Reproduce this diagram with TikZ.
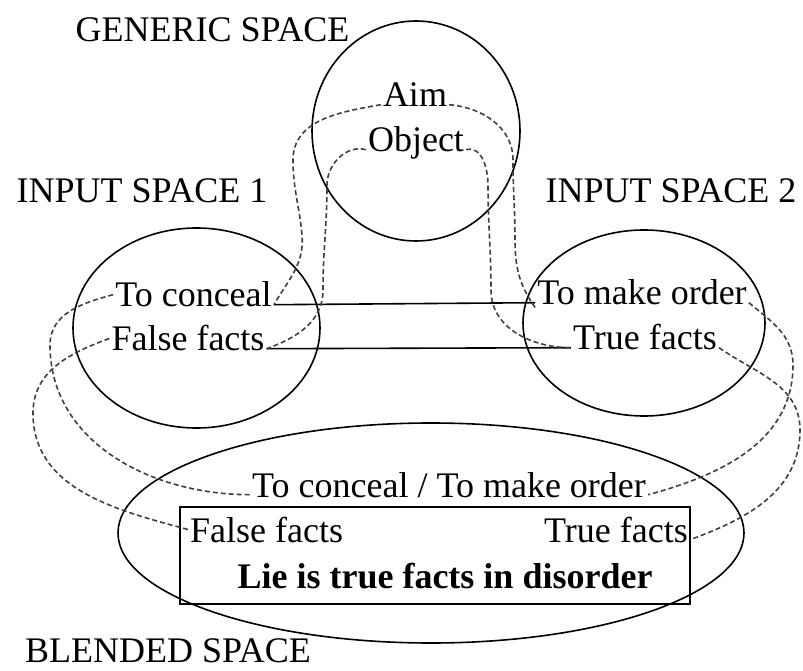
\documentclass[tikz,border=0pt]{standalone}
\usepackage{fontspec}
\setmainfont{Liberation Serif}
\usetikzlibrary{shapes.geometric}

\begin{document}
\begin{tikzpicture}[x=1pt,y=1pt,
  spacering/.style={ellipse, draw=black, line width=1.6pt, inner sep=0pt},
  lbl/.style={anchor=base, inner sep=2pt, font=\fontsize{36}{40}\selectfont},
  link/.style={draw=black!75, line width=1.6pt, dash pattern=on 5pt off 3pt},
  match/.style={draw=black, line width=1.6pt}
]
\useasboundingbox (0,0) rectangle (803,670);

% the four mental spaces
\node[spacering, minimum width=208pt, minimum height=220pt] (gen) at (416,539) {};
\node[spacering, minimum width=247pt, minimum height=200pt] (in1) at (196.5,342) {};
\node[spacering, minimum width=242pt, minimum height=186pt] (in2) at (644,347) {};
\node[spacering, minimum width=626pt, minimum height=220pt] (blend) at (431,137) {};
\node[draw=black, line width=1.6pt, minimum width=510pt, minimum height=97pt, inner sep=0pt] (frame) at (435,114.5) {};

% space titles
\node[lbl] (tgen) at (212.5,628) {GENERIC SPACE};
\node[lbl] (tin1) at (142,467) {INPUT SPACE 1};
\node[lbl] (tin2) at (671,467) {INPUT SPACE 2};
\node[lbl, anchor=base west, inner sep=0pt] (tblend) at (25,8) {BLENDED SPACE};

% generic space
\node[lbl] (aim) at (415,563) {Aim};
\node[lbl] (obj) at (416,518) {Object};

% input space 1
\node[lbl] (tc) at (193.5,363) {To conceal};
\node[lbl] (ffa) at (188,319) {False facts};

% input space 2
\node[lbl] (mo) at (642,365) {To make order};
\node[lbl] (tfb) at (645,320) {True facts};

% blended space
\node[lbl] (bt) at (449,173) {To conceal / To make order};
\node[lbl, anchor=base west] (bff) at (188,128) {False facts};
\node[lbl, anchor=base east] (btf) at (690,128) {True facts};
\node[lbl, font=\fontsize{36}{40}\selectfont\bfseries] (lie) at (445,82) {Lie is true facts in disorder};

% cross-space matches
\draw[match] (tc.mid east) -- (mo.mid west);
\draw[match] (ffa.mid east) -- (tfb.mid west);

% projections from the generic space
\draw[link] (aim.mid west) to[out=190,in=90] (293,510) to[out=-90,in=95] (302,435) to[out=-85,in=60] (tc.mid east);
\draw[link] (obj.mid west) to[out=165,in=90] (327,485) to[out=-90,in=90] (323,380) to[out=-90,in=20] (ffa.mid east);
\draw[link] (aim.mid east) to[out=-5,in=90] (513,510) to[out=-90,in=90] (515,430) to[out=-90,in=125] (mo.south west);
\draw[link] (obj.mid east) to[out=15,in=90] (488,485) to[out=-90,in=90] (491,380) to[out=-90,in=180] (tfb.mid west);

% projections into the blended space
\draw[link] (tc.west) to[out=195,in=90] (50,325) to[out=-90,in=180] (bt.mid west);
\draw[link] (ffa.west) to[out=200,in=90] (33,257) to[out=-90,in=165] (bff.west);
\draw[link] (mo.mid east) to[out=-40,in=90] (793,305) to[out=-90,in=15] (bt.mid east);
\draw[link] (tfb.mid east) to[out=-35,in=90] (800,240) to[out=-90,in=20] (btf.mid east);
\end{tikzpicture}
\end{document}
